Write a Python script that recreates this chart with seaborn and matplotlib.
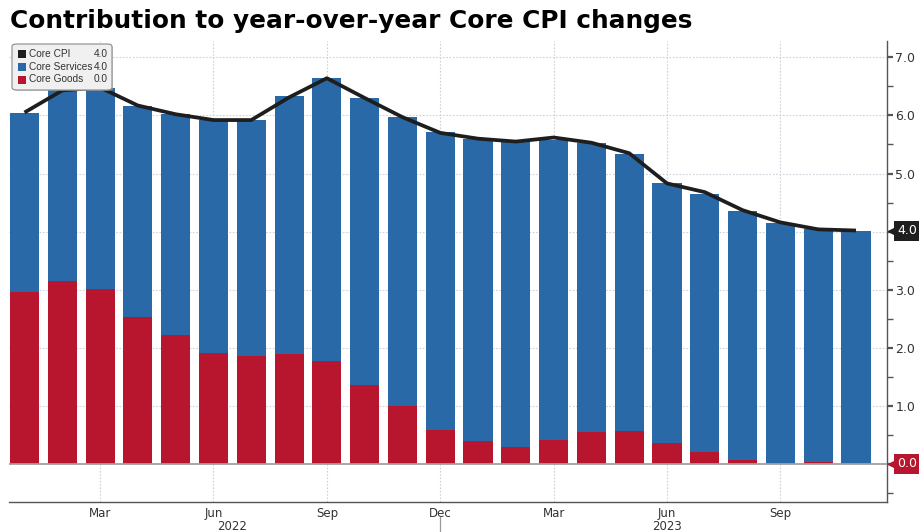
import numpy as np
import pandas as pd
import matplotlib
matplotlib.use("Agg")
import matplotlib.pyplot as plt
import matplotlib.transforms as mtransforms
from matplotlib.patches import FancyBboxPatch, Rectangle
import seaborn as sns

# data (Jan 2022 .. Nov 2023)
months = ["Jan", "Feb", "Mar", "Apr", "May", "Jun", "Jul", "Aug", "Sep", "Oct", "Nov", "Dec",
          "Jan", "Feb", "Mar", "Apr", "May", "Jun", "Jul", "Aug", "Sep", "Oct", "Nov"]
years = ["2022"] * 12 + ["2023"] * 11
core_goods = [2.97, 3.15, 3.01, 2.53, 2.22, 1.91, 1.86, 1.90, 1.77, 1.36, 1.00, 0.59,
              0.40, 0.29, 0.42, 0.56, 0.57, 0.36, 0.21, 0.07, 0.01, 0.03, 0.01]
core_services = [3.07, 3.30, 3.47, 3.64, 3.81, 4.01, 4.06, 4.43, 4.87, 4.94, 4.97, 5.13,
                 5.20, 5.26, 5.16, 4.96, 4.77, 4.47, 4.44, 4.28, 4.14, 4.01, 4.00]
core_cpi = [6.05, 6.43, 6.48, 6.17, 6.02, 5.92, 5.92, 6.31, 6.64, 6.30, 5.97, 5.70,
            5.60, 5.55, 5.62, 5.53, 5.35, 4.83, 4.68, 4.37, 4.16, 4.04, 4.02]
legend_names = ["Core CPI", "Core Services", "Core Goods"]
legend_values = ["4.0", "4.0", "0.0"]
y_ticks = [0, 1, 2, 3, 4, 5, 6, 7]

df = pd.DataFrame({"month": [m + " " + y for m, y in zip(months, years)],
                   "goods": core_goods, "services": core_services, "cpi": core_cpi})
df["total"] = df["goods"] + df["services"]
df["pos"] = np.arange(len(df))

BLUE = "#2a69a7"
RED = "#b8162e"
BLACK = "#1e1e1e"
GRID = "#cfd0dc"
AXC = "#555555"
TXT = "#333333"

sns.set_style("white")
plt.rcParams["font.family"] = ["DejaVu Sans"]

fig = plt.figure(figsize=(9.2, 5.32), dpi=100)
ax = fig.add_axes([9 / 920, 1 - 502 / 532, (887 - 9) / 920, (502 - 41) / 532])

# stacked bars: services on top of goods
sns.barplot(data=df, x="month", y="total", color=BLUE, saturation=1, width=0.77,
            linewidth=0, ax=ax, zorder=2)
sns.barplot(data=df, x="month", y="goods", color=RED, saturation=1, width=0.77,
            linewidth=0, ax=ax, zorder=3)
sns.lineplot(data=df, x="pos", y="cpi", color=BLACK, linewidth=2.7, ax=ax, zorder=4,
             solid_capstyle="butt")

ax.set_xlim(-0.41, 22.82)
ax.set_ylim(-0.65, 7.28)
ax.set_xlabel("")
ax.set_ylabel("")

# grid
major_x = [i for i in range(len(df)) if months[i] in ("Mar", "Jun", "Sep", "Dec")]
for yv in y_ticks[1:]:
    ax.axhline(yv, color=GRID, lw=0.8, ls=(0, (1.5, 1.5)), zorder=1)
for xv in major_x:
    ax.axvline(xv, color=GRID, lw=0.8, ls=(0, (1.5, 1.5)), zorder=1)
ax.axhline(0, color="#a0a0a0", lw=1.3, zorder=3.5)

# x ticks
ax.set_xticks(major_x)
ax.set_xticklabels([months[i] for i in major_x], fontsize=8.5, color=TXT)
ax.set_xticks([i for i in range(len(df)) if i not in major_x], minor=True)
ax.tick_params(axis="x", which="both", direction="out", length=3, width=0.8,
               color=AXC, pad=0.5)

# year labels + separator
trans = mtransforms.blended_transform_factory(ax.transData, fig.transFigure)
for yr in ["2022", "2023"]:
    idx = [i for i in range(len(df)) if years[i] == yr]
    ax.text((idx[0] + idx[-1]) / 2, 1 - 530 / 532, yr, transform=trans, ha="center",
            va="baseline", fontsize=8.5, color=TXT)
ax.plot([11, 11], [1 - 517 / 532, 0], transform=trans, color="#999999", lw=0.9,
        clip_on=False)

# right y axis
ax.yaxis.tick_right()
ax.set_yticks(y_ticks)
ax.set_yticklabels(["" if v in (0, 4) else f"{v:.1f}" for v in y_ticks], fontsize=9,
                   color=TXT)
ax.set_yticks(np.arange(-0.5, 7.0, 1.0), minor=True)
ax.tick_params(axis="y", which="both", direction="out", length=4, width=1.0,
               color=AXC, pad=2)
ax.tick_params(axis="y", which="major", width=1.6)

for s in ["left", "top"]:
    ax.spines[s].set_visible(False)
ax.spines["right"].set_color(AXC)
ax.spines["bottom"].set_color(AXC)
ax.spines["right"].set_linewidth(1.0)
ax.spines["bottom"].set_linewidth(1.0)

# value tags on the right axis
ytrans = mtransforms.blended_transform_factory(ax.transAxes, ax.transData)
for val, fc, tc in [(core_cpi[-1], BLACK, "white"), (core_goods[-1], RED, "white")]:
    ax.plot([1.0085], [val], marker="<", ms=9, color=fc, transform=ytrans,
            clip_on=False, zorder=6)
    ax.text(1.012, val, f"{val:.1f}", transform=ytrans, ha="left", va="center",
            fontsize=9, color=tc, zorder=6,
            bbox=dict(boxstyle="square,pad=0.28", fc=fc, ec="none"))

# title
fig.text(10 / 920, 1 - 21 / 532, "Contribution to year-over-year Core CPI changes",
         fontsize=17.8, fontweight="bold", color="black", ha="left", va="center")

# legend box
fig.patches.append(FancyBboxPatch((13 / 920, 1 - 91 / 532), 100 / 920, 46 / 532,
                                  boxstyle="round,pad=0,rounding_size=0.005",
                                  transform=fig.transFigure, fc="#b0b0b0", ec="none",
                                  alpha=0.5, zorder=8))
fig.patches.append(FancyBboxPatch((12 / 920, 1 - 90 / 532), 100 / 920, 46 / 532,
                                  boxstyle="round,pad=0,rounding_size=0.005",
                                  transform=fig.transFigure, fc="#f0f0f0", ec="#8a8a8a",
                                  lw=0.8, zorder=9))
row_y = [54, 67, 79.5]
for name, val, col, ry in zip(legend_names, legend_values, [BLACK, BLUE, RED], row_y):
    fig.patches.append(Rectangle((18 / 920, 1 - (ry + 4) / 532), 8 / 920, 8 / 532,
                                 transform=fig.transFigure, fc=col, ec="none", zorder=10))
    fig.text(29 / 920, 1 - ry / 532, name, fontsize=7.3, color=TXT, ha="left",
             va="center", zorder=10, family=["Liberation Sans", "DejaVu Sans"])
    fig.text(108 / 920, 1 - ry / 532, val, fontsize=7.3, color=TXT, ha="right",
             va="center", zorder=10, family=["Liberation Sans", "DejaVu Sans"])

fig.savefig("out.png", dpi=100)
